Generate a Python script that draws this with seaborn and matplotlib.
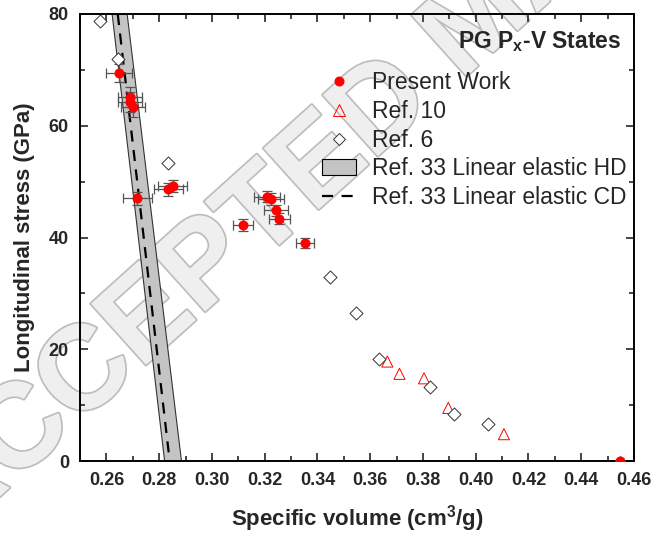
import matplotlib
matplotlib.use('Agg')
import matplotlib.pyplot as plt
import matplotlib.patheffects as pe
import seaborn as sns
from matplotlib.ticker import MultipleLocator
from matplotlib.patches import Patch
from matplotlib.lines import Line2D

# Present work: specific volume (cm3/g), stress (GPa) and their uncertainties
pw_vol = [0.2648, 0.2689, 0.2690, 0.2700, 0.2717, 0.2835, 0.2852, 0.3117,
          0.3208, 0.3223, 0.3243, 0.3255, 0.3353, 0.4547]
pw_stress = [69.4, 65.2, 64.3, 63.4, 47.0, 48.6, 49.2, 42.2,
             47.3, 46.9, 44.9, 43.4, 39.0, 0.0]
pw_vol_err = [0.0049, 0.0045, 0.0045, 0.0045, 0.0055, 0.0055, 0.0055, 0.0037,
              0.0050, 0.0050, 0.0045, 0.0040, 0.0033, 0.0]
pw_stress_err = [1.6, 1.8, 1.8, 1.8, 1.1, 1.1, 1.1, 1.1,
                 1.0, 1.0, 1.0, 1.0, 0.95, 0.0]

# Ref. 10
ref10_vol = [0.3665, 0.3711, 0.3804, 0.3896, 0.4107]
ref10_stress = [17.8, 15.6, 14.8, 9.5, 4.8]

# Ref. 6
ref6_vol = [0.2576, 0.2645, 0.2835, 0.3448, 0.3546, 0.3635, 0.3827, 0.3918, 0.4048]
ref6_stress = [78.8, 71.9, 53.4, 33.0, 26.4, 18.2, 13.3, 8.5, 6.6]

# Ref. 33 linear elastic: HD band edges and CD line
hd_stress = [80, 0]
hd_vol_lo = [0.2620, 0.2819]
hd_vol_hi = [0.2677, 0.2883]
cd_stress = [80, 0]
cd_vol = [0.2643, 0.2840]

sns.set_style('ticks')
plt.rcParams['font.family'] = ['Liberation Sans', 'DejaVu Sans']
plt.rcParams['mathtext.fontset'] = 'custom'
plt.rcParams['mathtext.rm'] = 'Liberation Sans'
plt.rcParams['mathtext.bf'] = 'Liberation Sans:bold'

fig = plt.figure(figsize=(6.52, 5.33), dpi=100)
ax = fig.add_axes([80 / 652, 1 - 461 / 533, 554 / 652, 447 / 533])
ax.set_facecolor('none')

band_color = '#c4c4c4'
ax.fill_betweenx(hd_stress, hd_vol_lo, hd_vol_hi, facecolor=band_color,
                 edgecolor='#333333', linewidth=0.8, zorder=1)
sns.lineplot(x=cd_vol, y=cd_stress, color='black', lw=1.6, dashes=False, ax=ax, zorder=2)
ax.lines[-1].set_dashes((5, 3.8))

ax.errorbar(pw_vol, pw_stress, xerr=pw_vol_err, yerr=pw_stress_err, fmt='none',
            ecolor='#555555', elinewidth=0.9, capsize=3.5, capthick=0.9, zorder=3)
sns.scatterplot(x=pw_vol, y=pw_stress, color='red', s=52, marker='o',
                linewidth=0, ax=ax, zorder=4)
sns.scatterplot(x=ref10_vol, y=ref10_stress, marker='^', s=64, ax=ax, zorder=4)
ax.collections[-1].set_facecolor('none')
ax.collections[-1].set_edgecolor('red')
ax.collections[-1].set_linewidth(0.7)
sns.scatterplot(x=ref6_vol, y=ref6_stress, marker='D', s=44, ax=ax, zorder=4)
ax.collections[-1].set_facecolor('white')
ax.collections[-1].set_edgecolor('#333333')
ax.collections[-1].set_linewidth(0.7)

ax.set_xlim(0.25, 0.46)
ax.set_ylim(0, 80)
ax.xaxis.set_major_locator(MultipleLocator(0.02))
ax.xaxis.set_minor_locator(MultipleLocator(0.01))
ax.yaxis.set_major_locator(MultipleLocator(20))
ax.yaxis.set_minor_locator(MultipleLocator(10))
ax.xaxis.set_major_formatter(lambda v, p: f'{v:.2f}')
ax.tick_params(which='both', direction='in', top=True, right=True, width=1.2,
               labelsize=13, pad=8)
ax.tick_params(which='major', length=6)
ax.tick_params(which='minor', length=3.5)
for lab in ax.get_xticklabels() + ax.get_yticklabels():
    lab.set_fontweight('bold')
for sp in ax.spines.values():
    sp.set_linewidth(1.4)
    sp.set_color('black')

ax.set_xlabel(r'Specific volume (cm$^{\mathbf{3}}$/g)', fontsize=16, fontweight='bold', labelpad=10)
ax.set_ylabel('Longitudinal stress (GPa)', fontsize=16, fontweight='bold', labelpad=10)

handles = [
    Line2D([], [], marker='o', color='red', ls='none', ms=7.2, mew=0),
    Line2D([], [], marker='^', mfc='none', mec='red', ls='none', ms=8, mew=0.7),
    Line2D([], [], marker='D', mfc='white', mec='#333333', ls='none', ms=6.6, mew=0.7),
    Patch(facecolor=band_color, edgecolor='black', linewidth=0.8),
    Line2D([], [], color='black', lw=1.6, dashes=(5, 3.8)),
]
labels = ['Present Work', 'Ref. 10', 'Ref. 6', 'Ref. 33 Linear elastic HD',
          'Ref. 33 Linear elastic CD']
ax.legend(handles, labels, loc='upper right', bbox_to_anchor=(0.986, 0.872),
          frameon=False, fontsize=16.5, borderpad=0, borderaxespad=0,
          handlelength=1.45, handletextpad=0.7, labelspacing=0.25)
ax.text(0.9765, 0.924, r'PG P$_{\mathbf{x}}$-V States', transform=ax.transAxes,
        ha='right', va='baseline', fontsize=16.5, fontweight='bold')

# faint "accepted manuscript" watermark, kept behind the data
fig.text(480 / 652, 1 - 23 / 533, 'ACCEPTED MANUSCRIPT', fontsize=86, fontweight='bold',
         color='#efefef', rotation=42, rotation_mode='anchor',
         ha='center', va='center', zorder=-1,
         path_effects=[pe.withStroke(linewidth=2.5, foreground='#bdbdbd')])

fig.savefig('out.png', dpi=100)
